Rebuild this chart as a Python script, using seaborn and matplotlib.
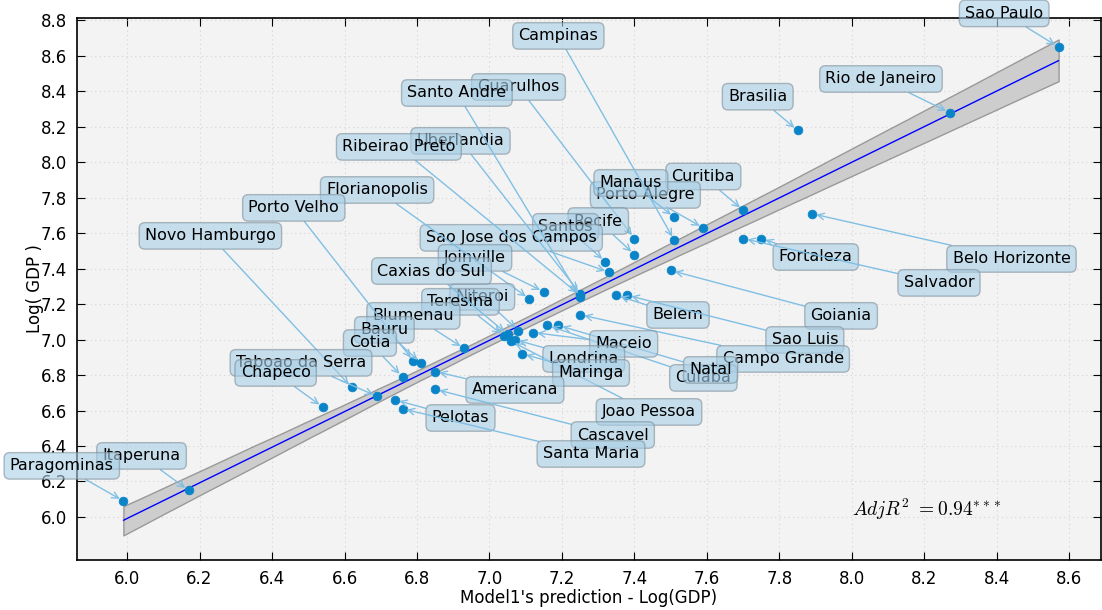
import matplotlib
matplotlib.use("Agg")
import matplotlib.pyplot as plt
import numpy as np
import pandas as pd
import seaborn as sns

# Municipalities, model-1 predicted log(GDP) and observed log(GDP)
cities = [
    "Sao Paulo", "Rio de Janeiro", "Brasilia", "Curitiba", "Belo Horizonte",
    "Fortaleza", "Salvador", "Goiania", "Porto Alegre", "Manaus",
    "Campinas", "Guarulhos", "Recife", "Santos", "Sao Jose dos Campos",
    "Uberlandia", "Ribeirao Preto", "Santo Andre", "Joinville", "Florianopolis",
    "Belem", "Sao Luis", "Campo Grande", "Cuiaba", "Natal",
    "Niteroi", "Maceio", "Teresina", "Caxias do Sul", "Joao Pessoa",
    "Londrina", "Maringa", "Blumenau", "Porto Velho", "Bauru",
    "Americana", "Cotia", "Novo Hamburgo", "Taboao da Serra", "Cascavel",
    "Pelotas", "Santa Maria", "Chapeco", "Itaperuna", "Paragominas",
]
predicted = [
    8.57, 8.27, 7.85, 7.70, 7.89,
    7.75, 7.70, 7.50, 7.59, 7.51,
    7.51, 7.40, 7.40, 7.32, 7.33,
    7.25, 7.25, 7.25, 7.15, 7.11,
    7.35, 7.38, 7.25, 7.16, 7.19,
    7.08, 7.12, 7.04, 7.05, 7.06,
    7.07, 7.09, 6.93, 6.79, 6.81,
    6.85, 6.76, 6.62, 6.69, 6.85,
    6.74, 6.76, 6.54, 6.17, 5.99,
]
log_gdp = [
    8.65, 8.28, 8.18, 7.73, 7.71,
    7.57, 7.57, 7.39, 7.63, 7.69,
    7.56, 7.57, 7.48, 7.44, 7.38,
    7.26, 7.25, 7.24, 7.27, 7.23,
    7.25, 7.25, 7.14, 7.08, 7.08,
    7.05, 7.04, 7.02, 7.03, 6.99,
    7.00, 6.92, 6.95, 6.88, 6.87,
    6.82, 6.79, 6.73, 6.68, 6.72,
    6.66, 6.61, 6.62, 6.15, 6.09,
]

# Where each city's name box sits (data coordinates)
label_x = [
    8.42, 8.08, 7.74, 7.59, 8.44,
    7.90, 8.24, 7.97, 7.43, 7.39,
    7.19, 7.08, 7.30, 7.21, 7.06,
    6.92, 6.75, 6.91, 6.96, 6.69,
    7.52, 7.87, 7.81, 7.59, 7.61,
    6.98, 7.37, 6.92, 6.84, 7.44,
    7.26, 7.28, 6.79, 6.46, 6.71,
    7.07, 6.67, 6.23, 6.48, 7.34,
    6.92, 7.28, 6.41, 6.04, 5.82,
]
label_y = [
    8.84, 8.47, 8.37, 7.92, 7.455,
    7.466, 7.32, 7.134, 7.816, 7.884,
    8.713, 8.425, 7.669, 7.636, 7.574,
    8.121, 8.087, 8.391, 7.461, 7.844,
    7.139, 6.998, 6.891, 6.784, 6.829,
    7.241, 6.976, 7.213, 7.387, 6.592,
    6.891, 6.812, 7.134, 7.743, 7.055,
    6.716, 6.981, 7.585, 6.869, 6.462,
    6.558, 6.355, 6.812, 6.344, 6.288,
]

adj_r2 = 0.94

df = pd.DataFrame({"city": cities, "pred": predicted, "gdp": log_gdp})

sns.set_style("ticks")
plt.rcParams["font.family"] = ["DejaVu Sans"]
plt.rcParams["mathtext.fontset"] = "cm"
plt.rcParams["text.color"] = "black"
plt.rcParams["axes.labelcolor"] = "black"
plt.rcParams["xtick.color"] = "black"
plt.rcParams["ytick.color"] = "black"

fig = plt.figure(figsize=(11.02, 6.10), dpi=100)
ax = fig.add_axes([77 / 1102, 1 - 560 / 610, 1024 / 1102, 542 / 610])
ax.set_facecolor("#f3f3f3")

# Fitted line with confidence band
sns.regplot(data=df, x="pred", y="gdp", scatter=False, ci=95, seed=3,
            line_kws=dict(color="blue", lw=1.0, zorder=3), ax=ax)
band = ax.collections[-1]
band.set_alpha(None)
band.set_facecolor("#cdcdcd")
band.set_edgecolor("#999999")
band.set_linewidth(1.0)
band.set_zorder(2)

# Observed values
sns.scatterplot(data=df, x="pred", y="gdp", color="#0a84c8", s=40,
                edgecolor="#0a84c8", linewidth=0.5, zorder=5, ax=ax,
                legend=False)

for name, px, py, lx, ly in zip(cities, predicted, log_gdp, label_x, label_y):
    ax.annotate(
        name, xy=(px, py), xytext=(lx, ly), ha="center", va="center",
        fontsize=11.5, color="black", zorder=6,
        bbox=dict(boxstyle="round,pad=0.36", fc="#a9cfe7", ec="#7f8f99",
                  alpha=0.6, lw=1.0),
        arrowprops=dict(arrowstyle="->", color="#80bfe4", lw=1.0,
                        shrinkA=0, shrinkB=3),
    )

ax.text(8.0, 6.04, r"$AdjR^2\ ={%.2f}^{***}$" % adj_r2, fontsize=14,
        ha="left", va="center", zorder=6)

ax.set_xlim(5.862, 8.687)
ax.set_ylim(5.757, 8.814)
ax.set_xticks(np.arange(6.0, 8.61, 0.2))
ax.set_yticks(np.arange(6.0, 8.81, 0.2))
ax.xaxis.set_major_formatter(matplotlib.ticker.FormatStrFormatter("%.1f"))
ax.yaxis.set_major_formatter(matplotlib.ticker.FormatStrFormatter("%.1f"))
ax.grid(True, color="#d4d4d4", linestyle=(0, (1, 3)), linewidth=0.8)
ax.set_axisbelow(True)
ax.tick_params(direction="in", length=6, width=0.8, top=True, right=True,
               labelsize=12, pad=7, color="black", labelcolor="black")
for spine in ax.spines.values():
    spine.set_visible(True)
    spine.set_color("black")
    spine.set_linewidth(1.2)

ax.set_xlabel("Model1's prediction - Log(GDP)", fontsize=12, labelpad=1)
ax.set_ylabel("Log( GDP )", fontsize=12, labelpad=-2)

fig.savefig("out.png", dpi=100)
